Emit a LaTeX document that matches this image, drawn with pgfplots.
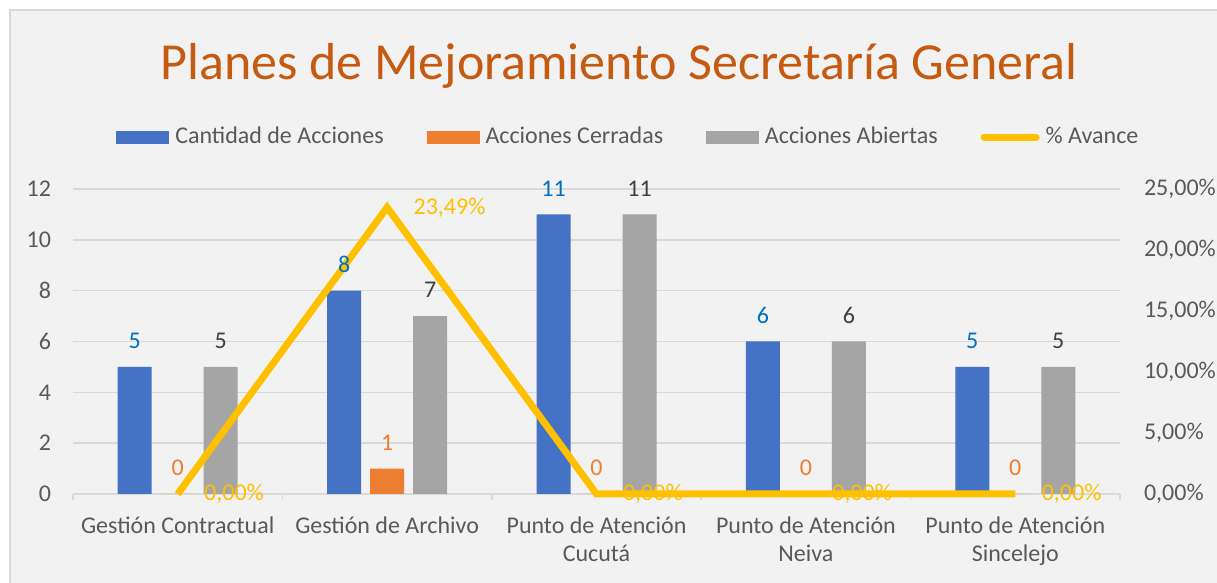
\documentclass[border=0pt]{standalone}
\usepackage{pgfplots}
\pgfplotsset{compat=1.18}
\usepackage{fontspec}
\setmainfont{Carlito}
\definecolor{cblue}{HTML}{4472C4}
\definecolor{corange}{HTML}{ED7D31}
\definecolor{cgray}{HTML}{A5A5A5}
\definecolor{cyellow}{HTML}{FFC000}
\definecolor{lblue}{HTML}{0070C0}
\definecolor{txt}{HTML}{595959}
\definecolor{gridc}{HTML}{D9D9D9}
\definecolor{bg}{HTML}{F2F2F2}
\definecolor{ctitle}{HTML}{C55A11}
\definecolor{dlab}{HTML}{404040}
\pgfplotsset{
  common/.style={
    scale only axis, width=523.5pt, height=152.5pt,
    at={(36.5pt,44.5pt)}, anchor=south west,
    xmin=-0.5, xmax=4.5, enlargelimits=false,
    /pgf/number format/assume math mode=true,
    tick label style={font=\fontsize{12}{14}\selectfont, text=txt},
  }
}
\begin{document}
\begin{tikzpicture}
\fill[white] (0,0) rectangle (608.5pt,291.5pt);
\fill[bg] (5pt,0) rectangle (608.5pt,286.5pt);
\draw[gridc, line width=0.6pt] (5pt,0) -- (5pt,286.5pt) -- (608.5pt,286.5pt);
\node[anchor=base, text=ctitle, font=\fontsize{26}{30}\selectfont, inner sep=0pt] at (309.5pt,251.5pt) {Planes de Mejoramiento Secretaría General};
% primary axis: bars
\begin{axis}[common,
  ymin=0, ymax=12, ytick={0,2,...,12},
  axis x line*=bottom, axis y line*=left,
  y axis line style={draw=none}, x axis line style={draw=gridc, line width=0.75pt},
  ymajorgrids, grid style={gridc, line width=0.75pt},
  xtick={0,...,4},
  xticklabels={Gestión Contractual, Gestión de Archivo, {Punto de Atención\\Cucutá}, {Punto de Atención\\Neiva}, {Punto de Atención\\Sincelejo}},
  xticklabel style={align=center, yshift=-8pt},
  yticklabel style={xshift=-7.5pt},
  minor xtick={-0.5,0.5,...,4.5},
  major tick length=0pt, minor tick length=3pt, tick align=outside,
  minor x tick style={draw=gridc, line width=0.75pt},
  ytick style={draw=none},
  legend style={draw=none, fill=none, at={(0.530,1.170)}, anchor=center,
    legend columns=4, font=\fontsize{12}{14}\selectfont, text=txt,
    /tikz/every even column/.append style={column sep=21pt},
    /tikz/every odd column/.append style={column sep=2.5pt},
    nodes={inner sep=0.5pt}},
  legend cell align=left,
]
\addplot[ybar, bar width=17pt, bar shift=-21.5pt, fill=cblue, draw=none, forget plot] coordinates {(0,5) (1,8) (2,11) (3,6) (4,5)};
\addplot[ybar, bar width=17pt, bar shift=0pt, fill=corange, draw=none, forget plot] coordinates {(0,0) (1,1) (2,0) (3,0) (4,0)};
\addplot[ybar, bar width=17pt, bar shift=21.5pt, fill=cgray, draw=none, forget plot] coordinates {(0,5) (1,7) (2,11) (3,6) (4,5)};
\addlegendimage{legend image code/.code={\fill[cblue] (0pt,-3pt) rectangle (26pt,3pt);}}
\addlegendentry{Cantidad de Acciones}
\addlegendimage{legend image code/.code={\fill[corange] (0pt,-3pt) rectangle (26pt,3pt);}}
\addlegendentry{Acciones Cerradas}
\addlegendimage{legend image code/.code={\fill[cgray] (0pt,-3pt) rectangle (26pt,3pt);}}
\addlegendentry{Acciones Abiertas}
\addlegendimage{legend image code/.code={\draw[cyellow, line width=3.5pt, line cap=round] (1pt,0pt) -- (27pt,0pt);}}
\addlegendentry{\% Avance}
\end{axis}
% secondary axis: line
\begin{axis}[common,
  ymin=0, ymax=25, ytick={0,5,...,25},
  yticklabels={{0,00\%},{5,00\%},{10,00\%},{15,00\%},{20,00\%},{25,00\%}},
  yticklabel style={xshift=8.5pt},
  axis x line=none, axis y line*=right, y axis line style={draw=none},
  major tick length=0pt, ytick style={draw=none},
  clip=false,
]
\addplot[cyellow, line width=3.5pt, line join=miter,
  nodes near coords={\pgfmathprintnumber[fixed, fixed zerofill, precision=2, use comma]{\pgfplotspointmeta}\%},
  point meta=y,
  every node near coord/.style={anchor=west, inner sep=0pt, xshift=11.5pt, text=cyellow, font=\fontsize{12}{14}\selectfont}]
  coordinates {(0,0) (1,23.49) (2,0) (3,0) (4,0)};
\end{axis}
% labels on top
\begin{axis}[common, hide axis, ymin=0, ymax=12, clip=false]
\addplot[only marks, mark=none, nodes near coords,
  every node near coord/.style={anchor=center, xshift=-21.5pt, yshift=13pt, text=lblue, font=\fontsize{12}{14}\selectfont}]
  coordinates {(0,5) (1,8) (2,11) (3,6) (4,5)};
\addplot[only marks, mark=none, nodes near coords,
  every node near coord/.style={anchor=center, yshift=13pt, text=corange, font=\fontsize{12}{14}\selectfont}]
  coordinates {(0,0) (1,1) (2,0) (3,0) (4,0)};
\addplot[only marks, mark=none, nodes near coords,
  every node near coord/.style={anchor=center, xshift=21.5pt, yshift=13pt, text=dlab, font=\fontsize{12}{14}\selectfont}]
  coordinates {(0,5) (1,7) (2,11) (3,6) (4,5)};
\end{axis}
\pgfresetboundingbox
\useasboundingbox (0,0) rectangle (608.5pt,291.5pt);
\end{tikzpicture}
\end{document}
